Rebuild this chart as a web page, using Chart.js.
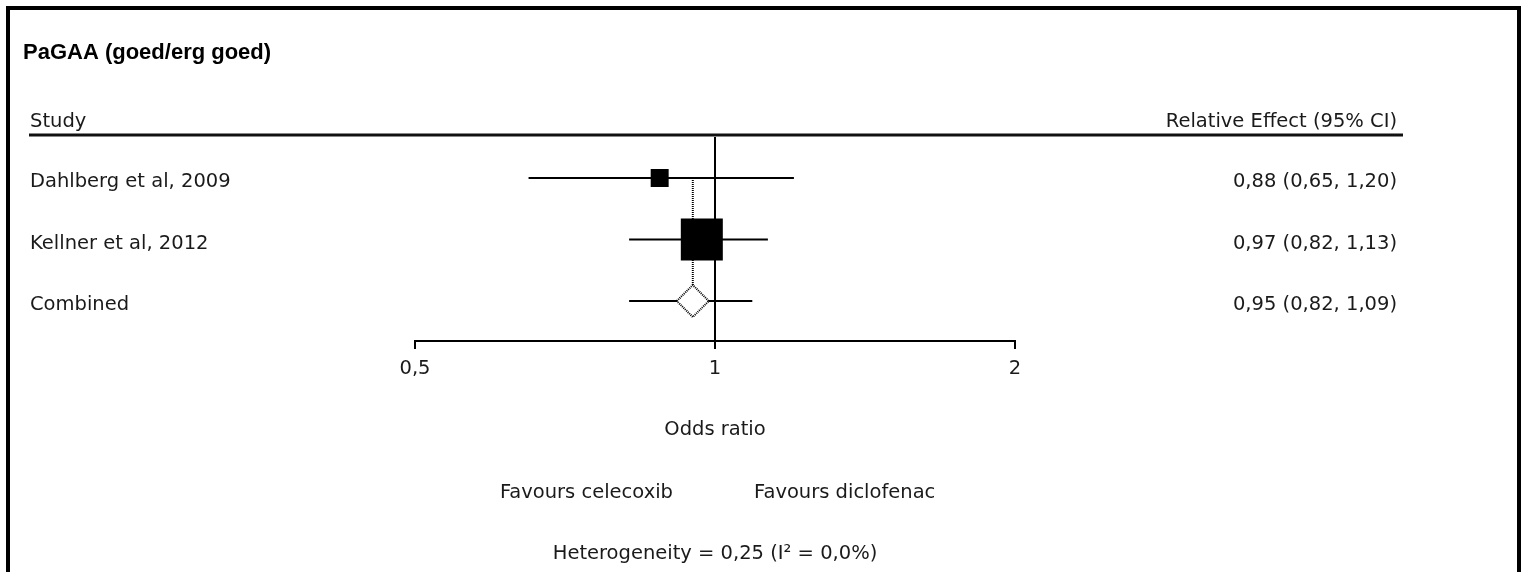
<!DOCTYPE html>
<html>
<head>
<meta charset="utf-8">
<title>PaGAA (goed/erg goed)</title>
<script src="https://cdn.jsdelivr.net/npm/chart.js@4.4.1/dist/chart.umd.min.js"></script>
<style>
	html, body { margin: 0; padding: 0; background: #fff; }
	canvas { display: block; }
</style>
</head>
<body>
<canvas id="forest" width="1522" height="572"></canvas>
<script>
/*-------------------------------------------------------------------------*/
// Data
/*-------------------------------------------------------------------------*/
var chartTitle = 'PaGAA (goed/erg goed)';
var studies = ['Dahlberg et al, 2009', 'Kellner et al, 2012'];
var oddsRatio = [0.88, 0.97];
var ciLower = [0.65, 0.82];
var ciUpper = [1.20, 1.13];
var combinedLabel = 'Combined';
var combinedOR = 0.95;
var combinedLower = 0.82;
var combinedUpper = 1.09;
var tickValues = [0.5, 1, 2];
var tickLabels = ['0,5', '1', '2'];
var axisTitle = 'Odds ratio';
var favoursLeft = 'Favours celecoxib';
var favoursRight = 'Favours diclofenac';
var heterogeneity = 'Heterogeneity = 0,25 (I\u00b2 = 0,0%)';

/*-------------------------------------------------------------------------*/
// Helpers
/*-------------------------------------------------------------------------*/
var TEXT_FAMILY = '"DejaVu Sans", Verdana, sans-serif';
var TEXT_SIZE = 19.5;
var TEXT_FONT = TEXT_SIZE + 'px ' + TEXT_FAMILY;
var TEXT_COLOR = '#1a1a1a';

function fmt(v) {
	return v.toFixed(2).replace('.', ',');
}

var rowLabels = studies.concat([combinedLabel]);
var rowEst = oddsRatio.concat([combinedOR]);
var rowLo = ciLower.concat([combinedLower]);
var rowHi = ciUpper.concat([combinedUpper]);

// one line per confidence interval
var ciDatasets = rowLabels.map(function (lab, i) {
	return {
		label: lab + ' CI',
		data: [{ x: rowLo[i], y: i + 1 }, { x: rowHi[i], y: i + 1 }],
		showLine: true,
		borderColor: '#000',
		borderWidth: 2,
		pointRadius: 0
	};
});

var forestText = {
	id: 'forestText',
	beforeDraw: function (chart) {
		var ctx = chart.ctx;
		ctx.save();
		ctx.fillStyle = '#fff';
		ctx.fillRect(0, 0, chart.width, chart.height);
		ctx.restore();
	},
	beforeDatasetDraw: function (chart, args) {
		if (chart.data.datasets[args.index].label === combinedLabel) {
			chart.ctx.setLineDash([1, 1]);
		}
	},
	afterDatasetDraw: function (chart) {
		chart.ctx.setLineDash([]);
	},
	afterDraw: function (chart) {
		var ctx = chart.ctx;
		var xs = chart.scales.x;
		var ys = chart.scales.y;
		var one = xs.getPixelForValue(1);
		ctx.save();

		// frame
		ctx.strokeStyle = '#000';
		ctx.lineWidth = 4;
		ctx.strokeRect(8, 8, 1511, 700);

		// title
		ctx.fillStyle = '#000';
		ctx.font = 'bold 22px "Liberation Sans", Arial, sans-serif';
		ctx.textBaseline = 'alphabetic';
		ctx.textAlign = 'left';
		ctx.fillText(chartTitle, 23, 59);

		// header
		ctx.font = TEXT_FONT;
		ctx.fillStyle = TEXT_COLOR;
		ctx.fillText('Study', 30, 126.5);
		ctx.textAlign = 'right';
		ctx.fillText('Relative Effect (95% CI)', 1397, 126.5);
		ctx.beginPath();
		ctx.moveTo(29, 135);
		ctx.lineTo(1403, 135);
		ctx.lineWidth = 3;
		ctx.strokeStyle = '#111';
		ctx.stroke();

		// rows
		rowLabels.forEach(function (lab, i) {
			var py = ys.getPixelForValue(i + 1) + 9;
			ctx.textAlign = 'left';
			ctx.fillText(lab, 30, py);
			ctx.textAlign = 'right';
			ctx.fillText(fmt(rowEst[i]) + ' (' + fmt(rowLo[i]) + ', ' + fmt(rowHi[i]) + ')', 1397, py);
		});

		// footer
		ctx.textAlign = 'right';
		ctx.fillText(favoursLeft, one - 42, 498);
		ctx.textAlign = 'left';
		ctx.fillText(favoursRight, one + 39, 498);
		ctx.textAlign = 'center';
		ctx.fillText(heterogeneity, one, 559);

		ctx.restore();
	}
};

/*-------------------------------------------------------------------------*/
// Chart
/*-------------------------------------------------------------------------*/
new Chart(document.getElementById('forest'), {
	type: 'scatter',
	data: {
		datasets: [{
			label: combinedLabel,
			data: [{ x: combinedOR, y: 3 }],
			pointStyle: 'rectRot',
			pointRadius: 16,
			backgroundColor: '#fff',
			borderColor: '#000',
			borderWidth: 2
		}, {
			label: 'Studies',
			data: studies.map(function (s, i) { return { x: oddsRatio[i], y: i + 1 }; }),
			pointStyle: 'rect',
			pointRadius: [12.7, 29.7],
			backgroundColor: '#000',
			borderWidth: 0
		}].concat(ciDatasets).concat([{
			label: 'Pooled',
			data: [{ x: combinedOR, y: 1 }, { x: combinedOR, y: 3 }],
			showLine: true,
			borderColor: '#000',
			borderWidth: 2,
			borderDash: [1, 1],
			pointRadius: 0
		}])
	},
	options: {
		responsive: false,
		animation: false,
		events: [],
		layout: { padding: { left: 415, right: 507, top: 137, bottom: 0 } },
		plugins: {
			legend: { display: false },
			tooltip: { enabled: false }
		},
		scales: {
			x: {
				type: 'logarithmic',
				min: 0.5,
				max: 2,
				afterBuildTicks: function (s) {
					s.ticks = tickValues.map(function (v) { return { value: v }; });
				},
				afterFit: function (s) { s.height = 231; },
				ticks: {
					callback: function (v, i) { return tickLabels[i]; },
					font: { family: TEXT_FAMILY, size: TEXT_SIZE },
					color: TEXT_COLOR,
					padding: 8,
					maxRotation: 0,
					autoSkip: false
				},
				grid: {
					drawOnChartArea: true,
					color: function (c) { return c.tick && c.tick.value === 1 ? '#000' : 'rgba(0,0,0,0)'; },
					lineWidth: 2,
					tickColor: '#000',
					tickWidth: 2,
					tickLength: 8
				},
				border: { display: true, color: '#000', width: 2 },
				title: {
					display: true,
					text: axisTitle,
					font: { family: TEXT_FAMILY, size: TEXT_SIZE },
					color: TEXT_COLOR,
					padding: { top: 0, bottom: 130 }
				}
			},
			y: {
				type: 'linear',
				display: false,
				reverse: true,
				min: 1 / 3,
				max: 3.65
			}
		}
	},
	plugins: [forestText]
});
</script>
</body>
</html>
